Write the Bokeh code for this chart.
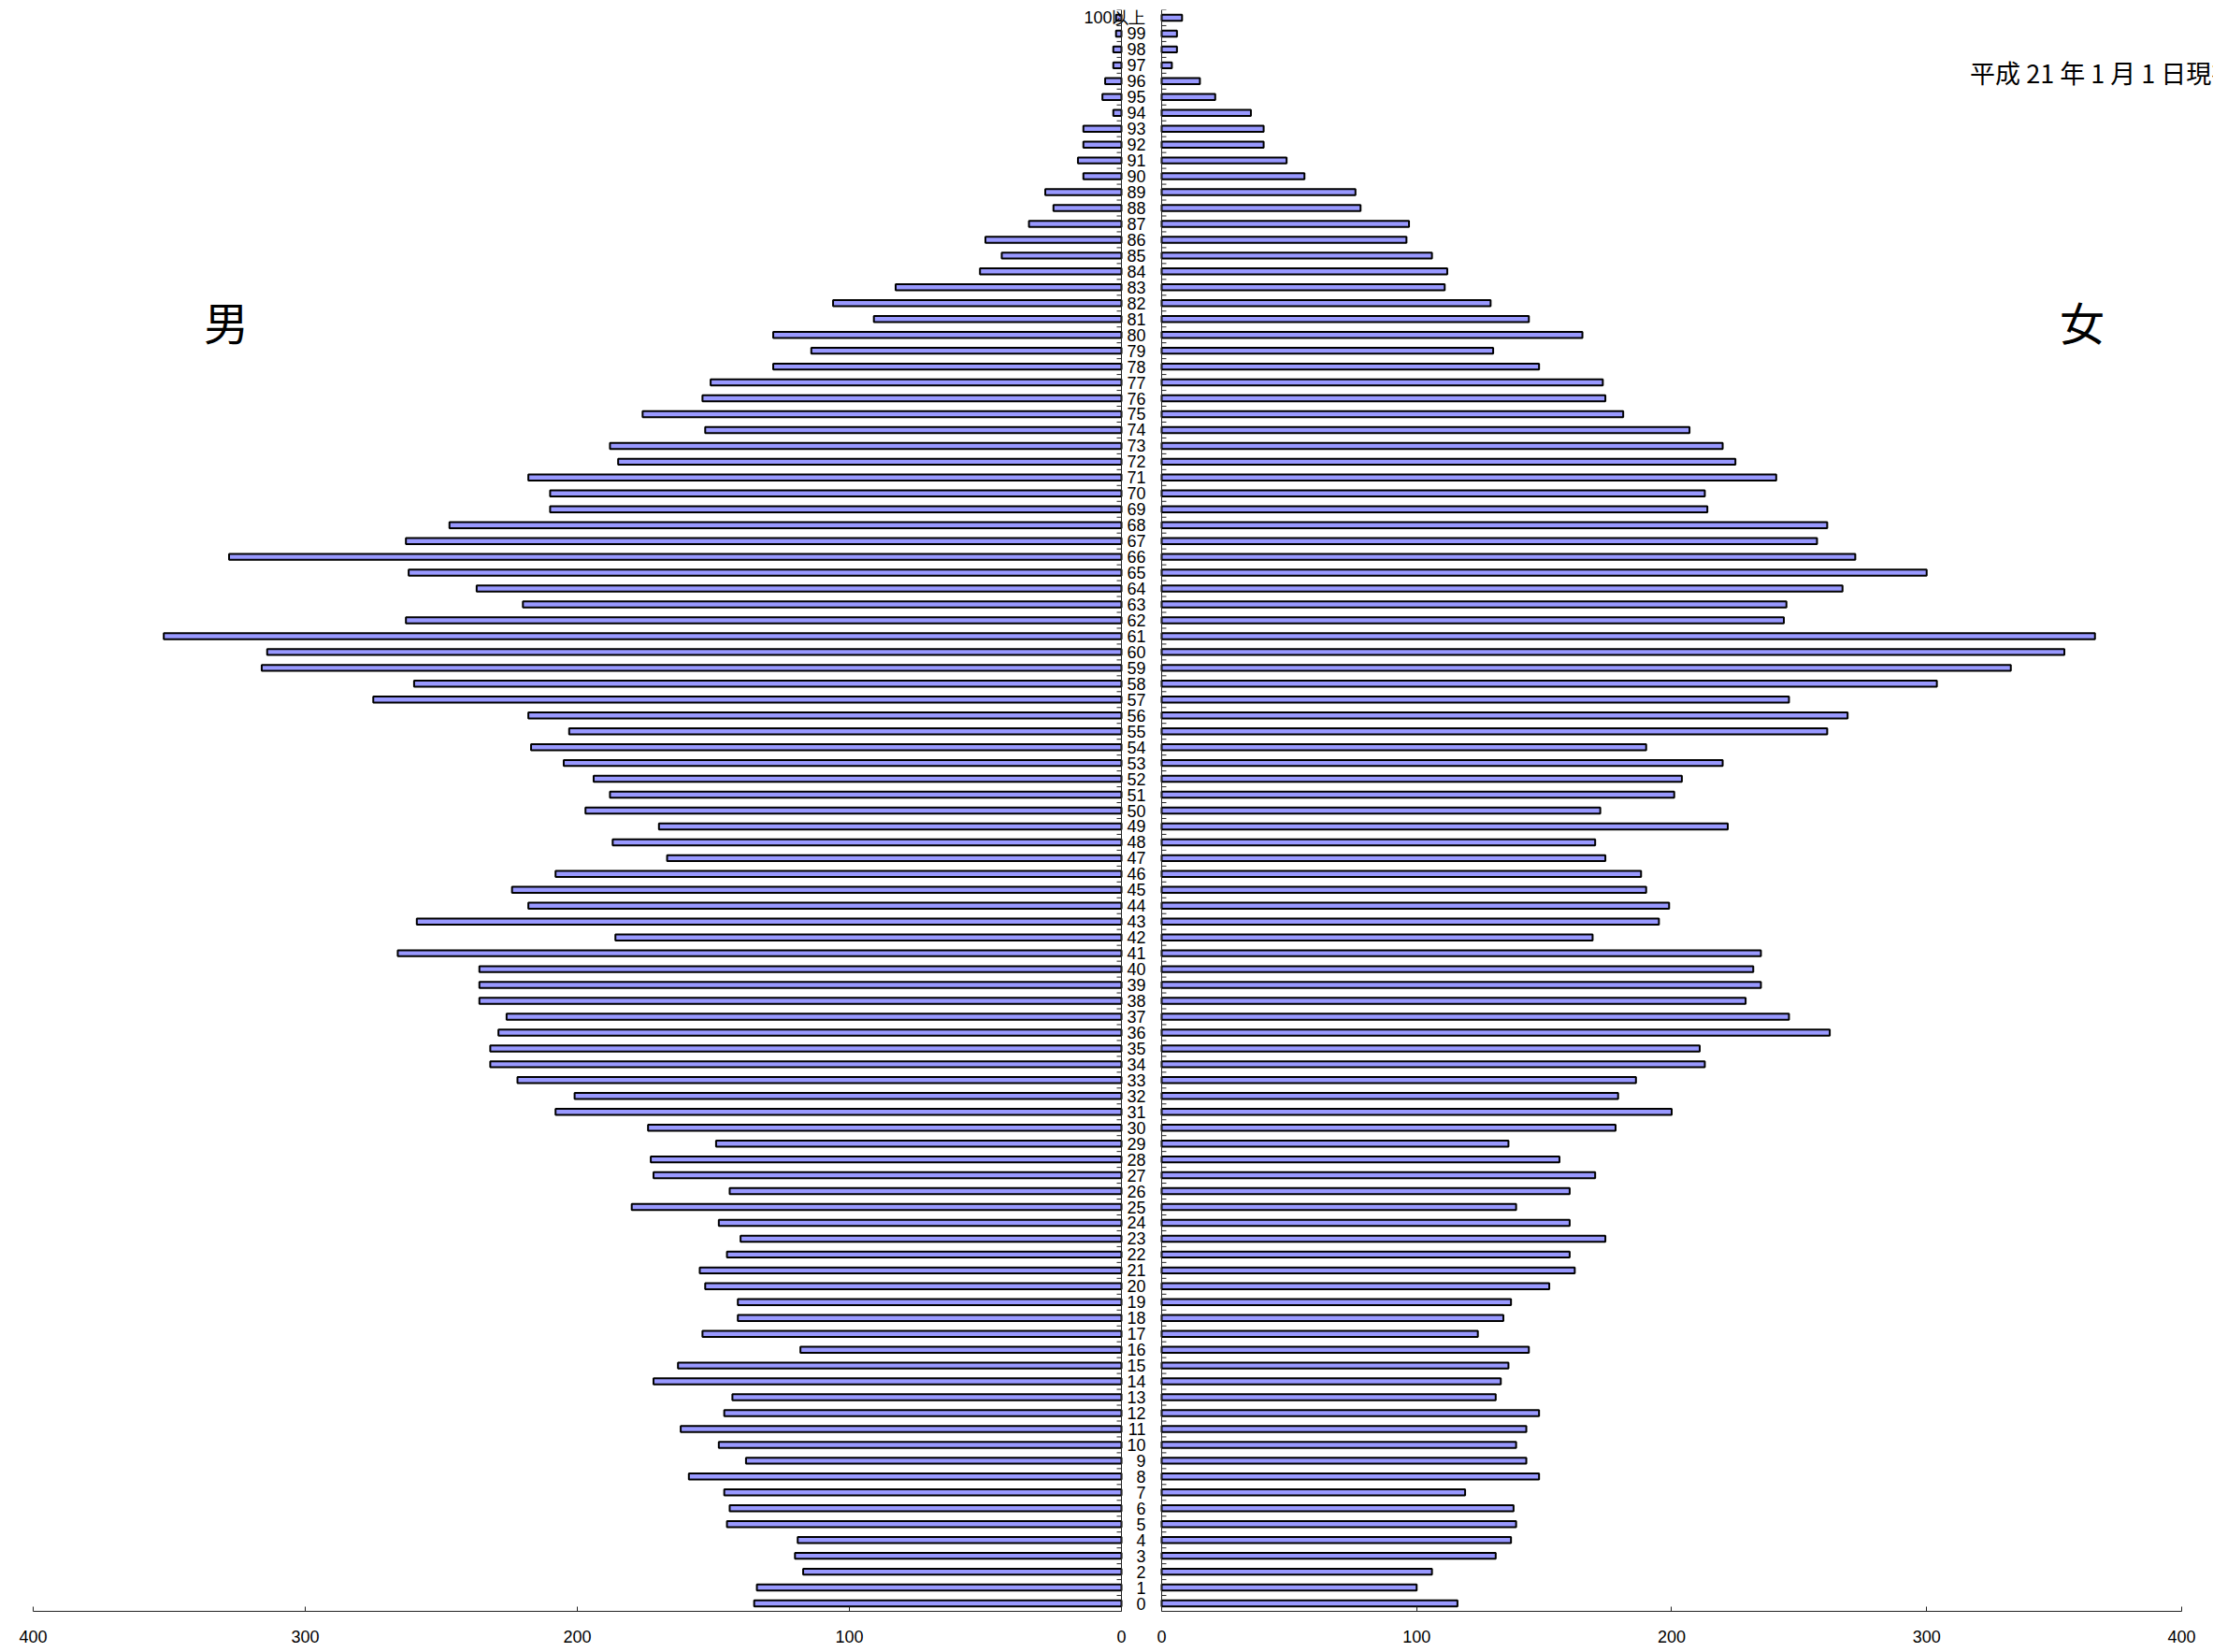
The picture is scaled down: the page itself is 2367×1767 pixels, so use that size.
from bokeh.plotting import figure
from bokeh.layouts import row
from bokeh.models import Range1d, FixedTicker, Label, ColumnDataSource, Span
from bokeh.core.properties import value
from bokeh.embed import file_html
from bokeh.resources import INLINE

ages = list(range(101))
age_labels = [str(a) for a in range(100)] + ["100以上"]

male = [135, 134, 117, 120, 119, 145, 144, 146, 159, 138,
        148, 162, 146, 143, 172, 163, 118, 154, 141, 141,
        153, 155, 145, 140, 148, 180, 144, 172, 173, 149,
        174, 208, 201, 222, 232, 232, 229, 226, 236, 236,
        236, 266, 186, 259, 218, 224, 208, 167, 187, 170,
        197, 188, 194, 205, 217, 203, 218, 275, 260, 316,
        314, 352, 263, 220, 237, 262, 328, 263, 247, 210,
        210, 218, 185, 188, 153, 176, 154, 151, 128, 114,
        128, 91, 106, 83, 52, 44, 50, 34, 25, 28,
        14, 16, 14, 14, 3, 7, 6, 3, 3, 2,
        2]

female = [116, 100, 106, 131, 137, 139, 138, 119, 148, 143,
          139, 143, 148, 131, 133, 136, 144, 124, 134, 137,
          152, 162, 160, 174, 160, 139, 160, 170, 156, 136,
          178, 200, 179, 186, 213, 211, 262, 246, 229, 235,
          232, 235, 169, 195, 199, 190, 188, 174, 170, 222,
          172, 201, 204, 220, 190, 261, 269, 246, 304, 333,
          354, 366, 244, 245, 267, 300, 272, 257, 261, 214,
          213, 241, 225, 220, 207, 181, 174, 173, 148, 130,
          165, 144, 129, 111, 112, 106, 96, 97, 78, 76,
          56, 49, 40, 40, 35, 21, 15, 4, 6, 6,
          8]

x_ticks = [0, 100, 200, 300, 400]
title_text = "平成 21 年 1 月 1 日現在"
male_text = "男"
female_text = "女"

src = ColumnDataSource(dict(age=ages, label=age_labels, male=male, female=female))
bounds = [a - 0.5 for a in ages] + [ages[-1] + 0.5]

FILL = "#9999ff"
AXC = "#222222"
H = 1767


def style(p):
    p.xgrid.visible = False
    p.ygrid.visible = False
    p.outline_line_color = None
    p.background_fill_color = "white"
    p.border_fill_color = "white"
    xa = p.xaxis[0]
    xa.ticker = FixedTicker(ticks=x_ticks)
    xa.bounds = (0, 400)
    xa.major_tick_in = 5
    xa.major_tick_out = 0
    xa.minor_tick_line_color = None
    xa.axis_line_color = AXC
    xa.major_tick_line_color = AXC
    xa.major_label_text_font = "Liberation Sans"
    xa.major_label_text_font_size = "18px"
    xa.major_label_text_color = "black"
    xa.major_label_standoff = 20
    p.add_layout(Span(location=0, dimension="height", line_color=AXC, line_width=1))


# male panel: 400 at left, 0 at x=1199; frame extends a bit past 0 for the age labels
left = figure(width=1230, height=H, x_range=Range1d(400, -10.65),
              y_range=Range1d(-0.5, 100.5), y_axis_location=None,
              output_backend="svg", toolbar_location=None,
              min_border_left=35, min_border_right=0,
              min_border_top=10, min_border_bottom=44)
style(left)
left.segment(x0=0, x1=1.72, y0=bounds, y1=bounds, line_color=AXC, line_width=1)
left.hbar(y="age", left=0, right="male", height=0.38, source=src,
          fill_color=FILL, line_color="black", line_width=2)
left.text(x=-8.93, y="age", text="label", source=src,
          text_align="right", text_baseline="middle",
          text_font=value("Liberation Sans"), text_font_size="18px",
          text_color="black")
left.add_layout(Label(x=329, y=80.9, text=male_text, text_align="center",
                      text_baseline="middle", text_font="Noto Sans CJK JP",
                      text_font_size="48px", text_color="black"))

# female panel: 0 at x=1242, 400 at x=2333, frame runs to the page edge
right = figure(width=1137, height=H, x_range=Range1d(-0.73, 412.47),
               y_range=Range1d(-0.5, 100.5), y_axis_location=None,
               output_backend="svg", toolbar_location=None,
               min_border_left=10, min_border_right=0,
               min_border_top=10, min_border_bottom=44)
style(right)
right.segment(x0=0, x1=1.83, y0=bounds, y1=bounds, line_color=AXC, line_width=1)
right.hbar(y="age", left=0, right="female", height=0.38, source=src,
           fill_color=FILL, line_color="black", line_width=2)
right.add_layout(Label(x=361, y=80.9, text=female_text, text_align="center",
                       text_baseline="middle", text_font="Noto Sans CJK JP",
                       text_font_size="48px", text_color="black"))
right.add_layout(Label(x=317, y=96.53, text=title_text, text_align="left",
                       text_baseline="middle", text_font="Noto Sans CJK JP",
                       text_font_size="27px", text_color="black"))

layout = row(left, right, spacing=0)
open("out.html", "w").write(file_html(layout, INLINE))
